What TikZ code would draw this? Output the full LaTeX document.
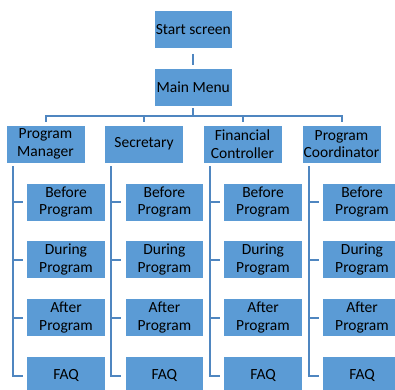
\documentclass[tikz,border=0pt]{standalone}
\usepackage{fontspec}
\setmainfont{Carlito}
\usepackage{xcolor}
\usepackage{tikz}
\definecolor{boxblue}{HTML}{5B9BD5}
\definecolor{lineblue}{HTML}{4F86C0}
\tikzset{
  box/.style={rectangle, fill=boxblue, draw=white, line width=0.6pt,
    minimum width=78.6pt, minimum height=38pt, inner sep=0pt, align=center,
    text=black, font=\fontsize{15.5}{17.5}\selectfont},
  conn/.style={draw=lineblue, line width=2pt}
}

\begin{document}
\begin{tikzpicture}[x=1pt,y=-1pt]
\useasboundingbox (0,0) rectangle (395,389);
\clip (0,0) rectangle (395,389);
% top of the tree
  \node[box] (start) at (193.3,29.5) {Start screen};
  \node[box] (main) at (193.3,87) {Main Menu};
  \draw[conn, shorten <=5pt, shorten >=3pt] (start) -- (main);
  \coordinate (bar) at (193.3,116);
% second level
  \node[box] (pm) at (45.5,144) {Program\\Manager};
  \node[box] (sc) at (144,144) {Secretary};
  \node[box] (fc) at (242.5,144) {Financial\\Controller};
  \node[box] (pc) at (341.5,144) {Program\\Coordinator};
  \draw[conn, shorten <=2pt] (main) -- (bar);
  \draw[conn, shorten <=3pt, shorten >=3pt] (pm.north) -- (pm.north |- bar) -- (pc.north |- bar) -- (pc.north);
  \draw[conn, shorten <=3pt] (sc.north) -- (sc.north |- bar);
  \draw[conn, shorten <=3pt] (fc.north) -- (fc.north |- bar);
% Program Manager
  \node[box] (pmbef) at (66,202) {Before\\Program};
  \node[box] (pmdur) at (66,259.5) {During\\Program};
  \node[box] (pmaft) at (66,317.5) {After\\Program};
  \node[box] (pmfaq) at (66,375.5) {FAQ};
  \coordinate (pmline) at ([xshift=7pt]pm.south west);
  \draw[conn, shorten <=3pt, shorten >=3.5pt] (pmline) |- (pmfaq.west);
  \draw[conn, shorten >=3.5pt] (pmline |- pmbef.west) -- (pmbef.west);
  \draw[conn, shorten >=3.5pt] (pmline |- pmdur.west) -- (pmdur.west);
  \draw[conn, shorten >=3.5pt] (pmline |- pmaft.west) -- (pmaft.west);
% Secretary
  \node[box] (scbef) at (164.4,202) {Before\\Program};
  \node[box] (scdur) at (164.4,259.5) {During\\Program};
  \node[box] (scaft) at (164.4,317.5) {After\\Program};
  \node[box] (scfaq) at (164.4,375.5) {FAQ};
  \coordinate (scline) at ([xshift=7pt]sc.south west);
  \draw[conn, shorten <=3pt, shorten >=3.5pt] (scline) |- (scfaq.west);
  \draw[conn, shorten >=3.5pt] (scline |- scbef.west) -- (scbef.west);
  \draw[conn, shorten >=3.5pt] (scline |- scdur.west) -- (scdur.west);
  \draw[conn, shorten >=3.5pt] (scline |- scaft.west) -- (scaft.west);
% Financial Controller
  \node[box] (fcbef) at (263,202) {Before\\Program};
  \node[box] (fcdur) at (263,259.5) {During\\Program};
  \node[box] (fcaft) at (263,317.5) {After\\Program};
  \node[box] (fcfaq) at (263,375.5) {FAQ};
  \coordinate (fcline) at ([xshift=7pt]fc.south west);
  \draw[conn, shorten <=3pt, shorten >=3.5pt] (fcline) |- (fcfaq.west);
  \draw[conn, shorten >=3.5pt] (fcline |- fcbef.west) -- (fcbef.west);
  \draw[conn, shorten >=3.5pt] (fcline |- fcdur.west) -- (fcdur.west);
  \draw[conn, shorten >=3.5pt] (fcline |- fcaft.west) -- (fcaft.west);
% Program Coordinator
  \node[box] (pcbef) at (362,202) {Before\\Program};
  \node[box] (pcdur) at (362,259.5) {During\\Program};
  \node[box] (pcaft) at (362,317.5) {After\\Program};
  \node[box] (pcfaq) at (362,375.5) {FAQ};
  \coordinate (pcline) at ([xshift=7pt]pc.south west);
  \draw[conn, shorten <=3pt, shorten >=3.5pt] (pcline) |- (pcfaq.west);
  \draw[conn, shorten >=3.5pt] (pcline |- pcbef.west) -- (pcbef.west);
  \draw[conn, shorten >=3.5pt] (pcline |- pcdur.west) -- (pcdur.west);
  \draw[conn, shorten >=3.5pt] (pcline |- pcaft.west) -- (pcaft.west);
\end{tikzpicture}
\end{document}
